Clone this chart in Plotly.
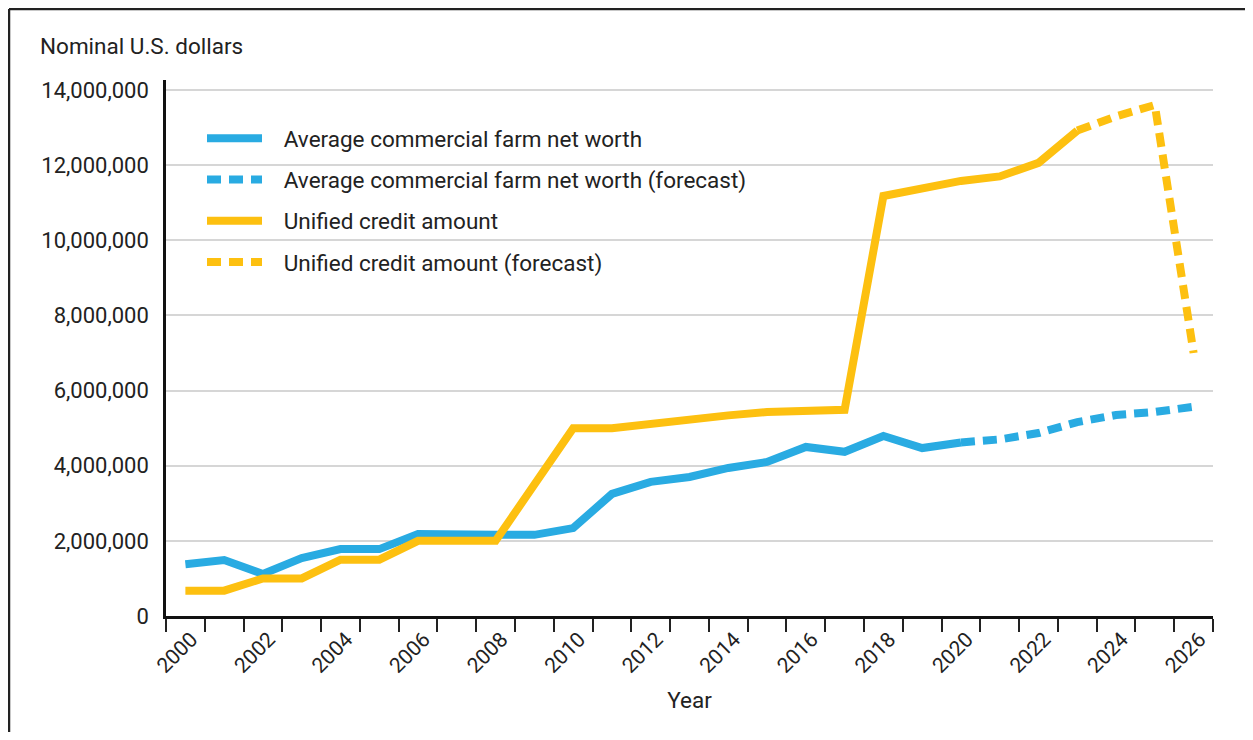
import plotly.graph_objects as go

# ---- data ----
nw_years = list(range(2000, 2021))
nw_values = [1380000, 1490000, 1120000, 1540000, 1780000, 1780000, 2180000, 2150000,
             2160000, 2160000, 2340000, 3250000, 3570000, 3700000, 3940000, 4100000,
             4500000, 4370000, 4790000, 4470000, 4620000]
nw_fc_years = list(range(2020, 2027))
nw_fc_values = [4620000, 4700000, 4870000, 5160000, 5350000, 5430000, 5570000]

uc_years = list(range(2000, 2024))
uc_values = [675000, 675000, 1000000, 1000000, 1500000, 1500000, 2000000, 2000000,
             2000000, 3500000, 5000000, 5000000, 5120000, 5250000, 5340000, 5430000,
             5450000, 5490000, 11180000, 11400000, 11580000, 11700000, 12060000, 12920000]
uc_fc_years = [2023, 2024, 2025, 2026]
uc_fc_values = [12920000, 13300000, 13600000, 7000000]

x_tick_vals = list(range(2000, 2027, 2))
y_tick_vals = [0, 2000000, 4000000, 6000000, 8000000, 10000000, 12000000, 14000000]

names = ["Average commercial farm net worth",
         "Average commercial farm net worth (forecast)",
         "Unified credit amount",
         "Unified credit amount (forecast)"]

BLUE = "#29ABE2"
GOLD = "#FDC010"
INK = "#222222"
FONT = "Roboto"
DASH = "14px,8px"
PAD = "\u00a0\u00a0\u00a0"

fig = go.Figure()
fig.add_trace(go.Scatter(x=nw_years, y=nw_values, mode="lines", name=PAD + names[0],
                         legendgroup="a", line=dict(color=BLUE, width=8)))
fig.add_trace(go.Scatter(x=nw_fc_years, y=nw_fc_values, mode="lines", name=PAD + names[1],
                         legendgroup="b", line=dict(color=BLUE, width=8, dash=DASH)))
fig.add_trace(go.Scatter(x=uc_years, y=uc_values, mode="lines", name=PAD + names[2],
                         legendgroup="c", line=dict(color=GOLD, width=8)))
fig.add_trace(go.Scatter(x=uc_fc_years, y=uc_fc_values, mode="lines", name=PAD + names[3],
                         legendgroup="d", line=dict(color=GOLD, width=8, dash=DASH)))

OFF = 8  # page body margin
W, H = 1253 - OFF, 740 - 2 * OFF
L, T = 166 - OFF, 80 - OFF
R = W - (1213 - OFF)
B = H - (616 - OFF)
pw, ph = W - L - R, H - T - B


def px_x(px):
    return (px - OFF - L) / pw


def px_y(py):
    return (H - B - (py - OFF)) / ph


fig.update_layout(
    width=W, height=H,
    margin=dict(l=L, r=R, t=T, b=B),
    paper_bgcolor="white", plot_bgcolor="white",
    font=dict(family=FONT, size=22, color=INK),
    showlegend=True,
    legend=dict(x=px_x(202), y=px_y(117), xanchor="left", yanchor="top",
                bgcolor="rgba(0,0,0,0)", font=dict(size=22.5, color=INK),
                tracegroupgap=9, itemwidth=55),
    xaxis=dict(range=[1999.5, 2026.5], tickmode="array", tickvals=x_tick_vals,
               ticktext=[str(v) for v in x_tick_vals], tickangle=-45,
               ticks="", showgrid=False, zeroline=False,
               showline=True, linecolor="#111111", linewidth=2.5,
               tickfont=dict(size=21, color=INK), ticklabelstandoff=0,
               ticklabelshift=6,
               minor=dict(tickmode="linear", tick0=1999.5, dtick=1, ticks="outside",
                          ticklen=13, tickwidth=2, tickcolor="#222222", showgrid=False),
               title=dict(text="Year", font=dict(size=22.5, color=INK), standoff=16)),
    yaxis=dict(range=[0, 14266000], tickmode="array", tickvals=y_tick_vals,
               tickformat=",d", ticks="", showgrid=True, gridcolor="#d6d6d6",
               gridwidth=1.5, zeroline=False, showline=True, linecolor="#111111",
               linewidth=2.5, tickfont=dict(size=22, color=INK), ticklabelstandoff=10),
    annotations=[dict(text="Nominal U.S. dollars", xref="paper", yref="paper",
                      x=px_x(38), y=px_y(46), xanchor="left", yanchor="middle",
                      showarrow=False, font=dict(size=22.5, color=INK))],
    shapes=[
        dict(type="line", xref="paper", yref="paper", x0=px_x(9), x1=px_x(1270),
             y0=px_y(9), y1=px_y(9), line=dict(color="#222222", width=2.5)),
        dict(type="line", xref="paper", yref="paper", x0=px_x(9), x1=px_x(9),
             y0=px_y(9), y1=px_y(760), line=dict(color="#222222", width=2.5)),
    ],
)

fig.write_html("out.html")
